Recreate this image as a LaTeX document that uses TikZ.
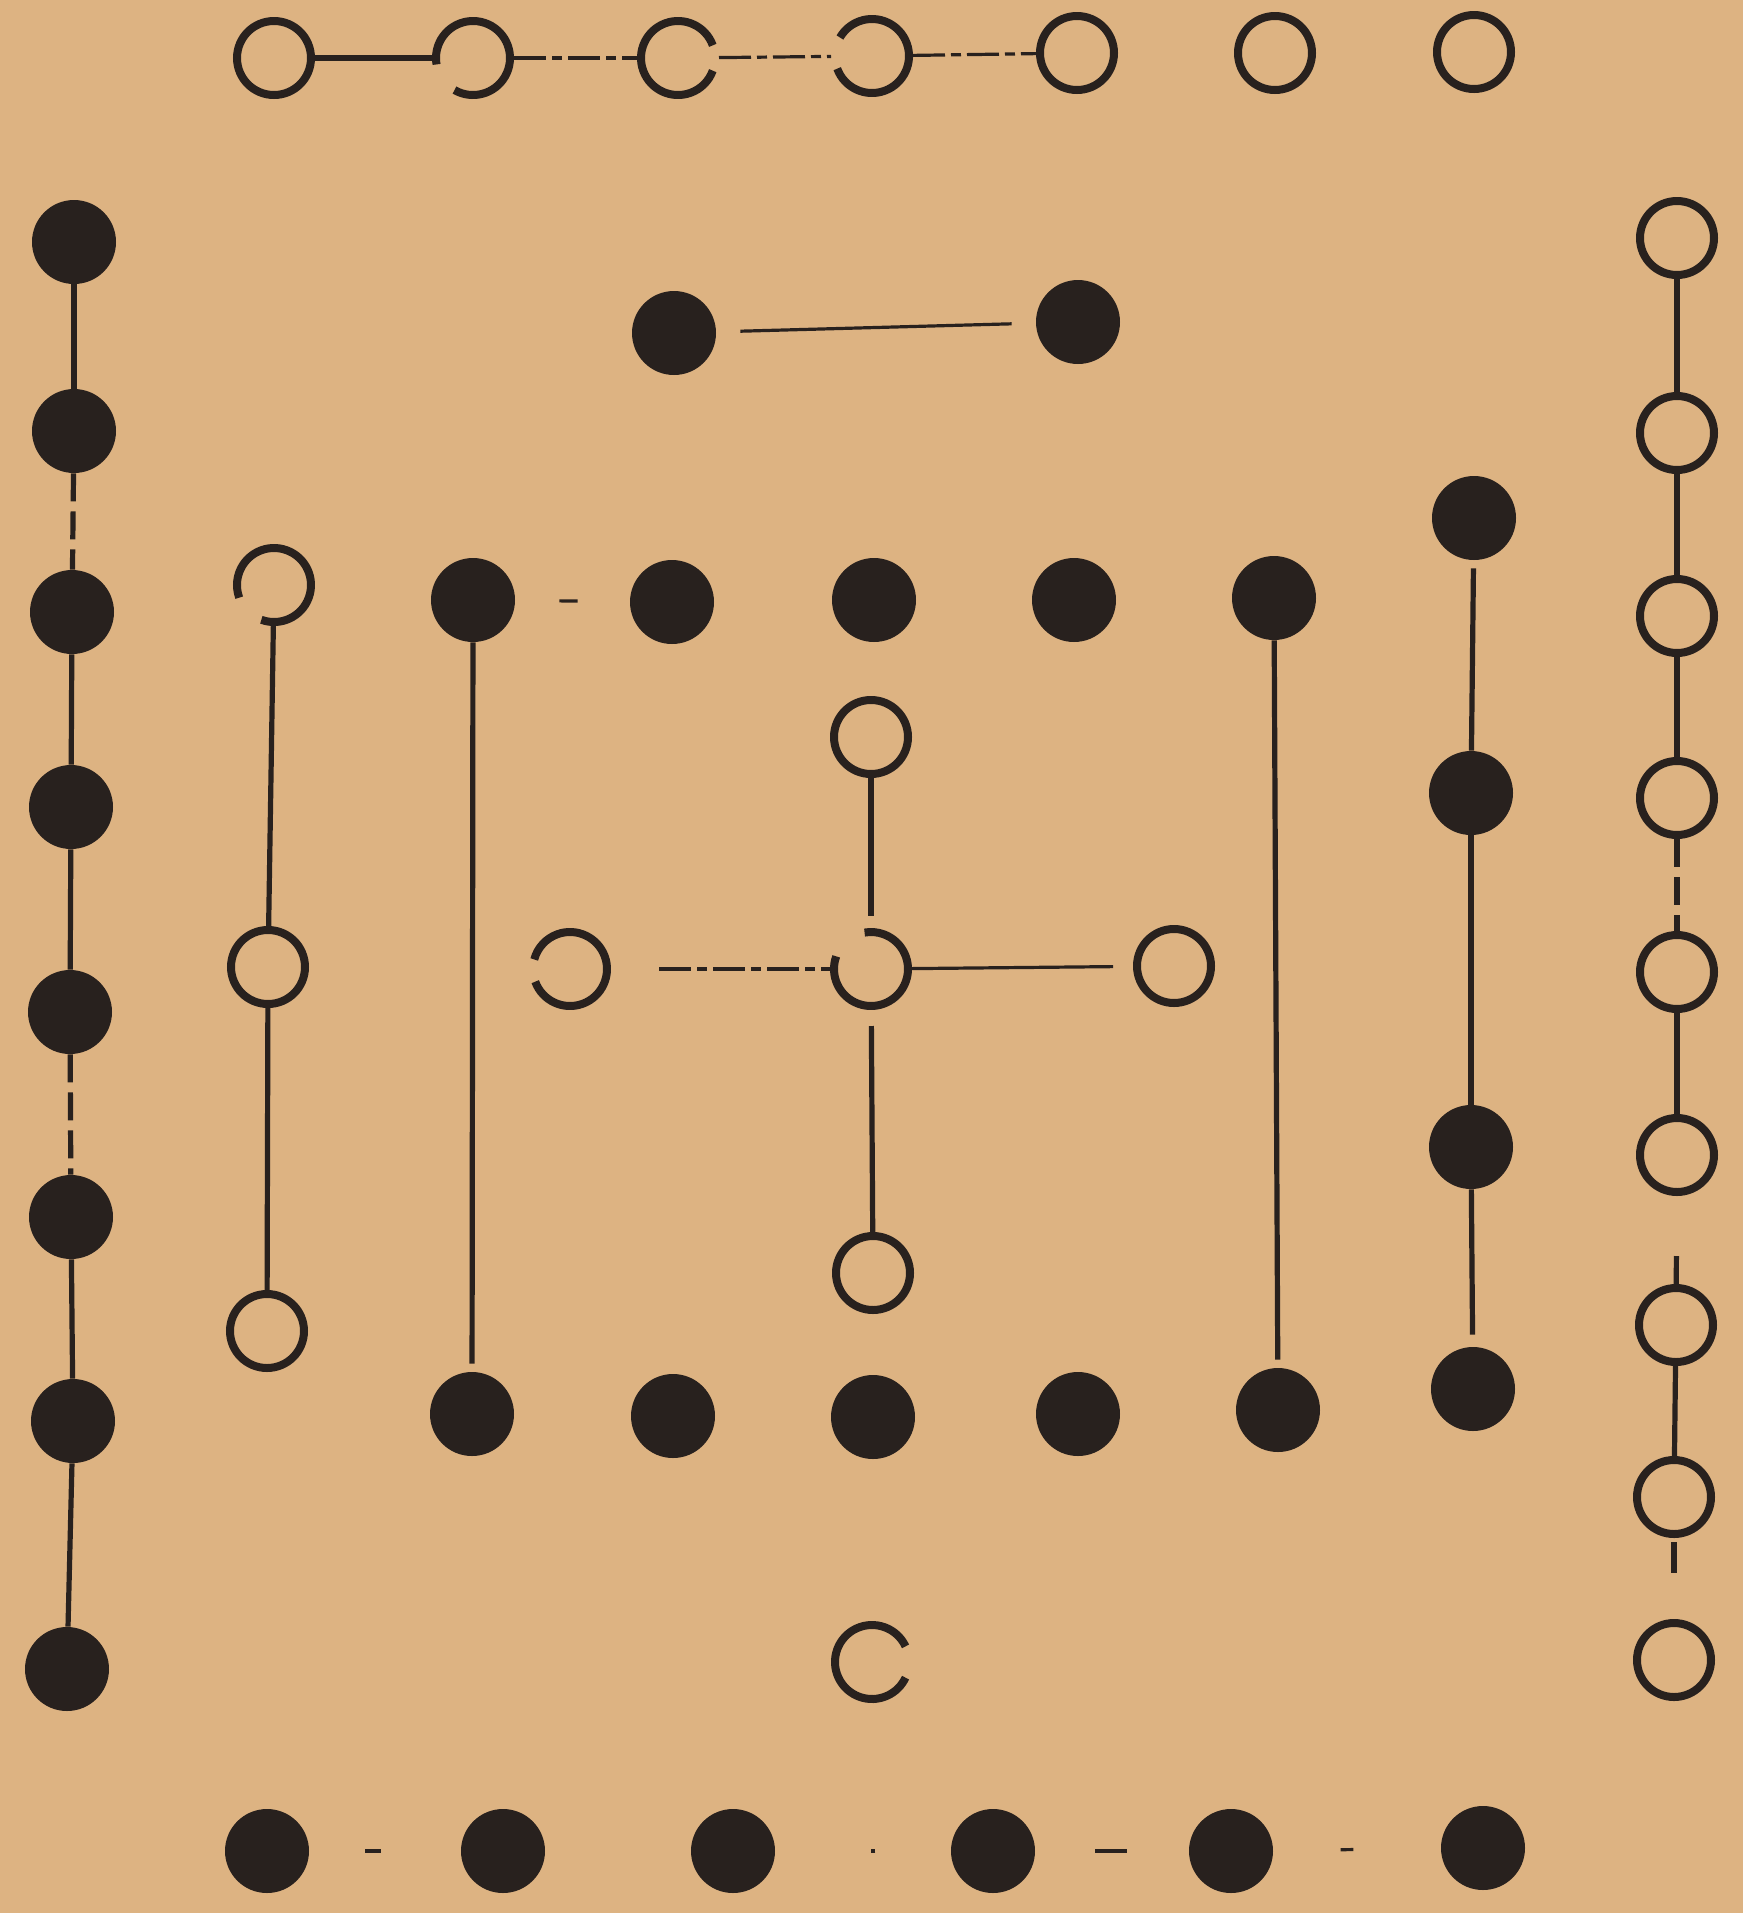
\documentclass[tikz,border=0pt]{standalone}
\definecolor{paper}{RGB}{221,179,130}
\definecolor{ink}{RGB}{40,33,30}
\begin{document}
\begin{tikzpicture}[x=0.5pt,y=-0.5pt,
  opn/.style={circle,draw=ink,line width=4pt,minimum size=37pt,inner sep=0pt},
  gapc/.style={circle,minimum size=37pt,inner sep=0pt,outer sep=2pt},
  arcline/.style={draw=ink,line width=4pt},
  ful/.style={circle,fill=ink,minimum size=42pt,inner sep=0pt},
  rope/.style={draw=ink,line width=2.6pt},
  fine/.style={draw=ink,line width=1.6pt},
  dsh/.style={draw=ink,line width=1.6pt,dash pattern=on 16pt off 3pt on 5pt off 3pt},
  vdsh/.style={draw=ink,line width=2.6pt,dash pattern=on 14pt off 5pt}]
\fill[paper] (0,0) rectangle (1743,1913);
\useasboundingbox (0,0) rectangle (1743,1913);
% top row (open)
\node[opn] (t1) at (274,58) {};
\node[gapc] (t2) at (473,58) {};
\node[gapc] (t3) at (678,58) {};
\node[gapc] (t4) at (872,56) {};
\node[opn] (t5) at (1077,53) {};
\node[opn] (t6) at (1275,53) {};
\node[opn] (t7) at (1474,52) {};
\draw[arcline] ([shift={(240:18.5pt)}]t2.center) arc[start angle=240,end angle=550,radius=18.5pt];
\draw[arcline] ([shift={(20:18.5pt)}]t3.center) arc[start angle=20,end angle=340,radius=18.5pt];
\draw[arcline] ([shift={(200:18.5pt)}]t4.center) arc[start angle=200,end angle=510,radius=18.5pt];
\draw[rope] (t1) -- (t2);
\draw[dsh] (t2) -- (t3);
\draw[dsh] (t3) -- (t4);
\draw[dsh] (t4) -- (t5);
% left column (filled)
\node[ful] (L1) at (74,242) {};
\node[ful] (L2) at (74,431) {};
\node[ful] (L3) at (72,612) {};
\node[ful] (L4) at (71,807) {};
\node[ful] (L5) at (70,1012) {};
\node[ful] (L6) at (71,1217) {};
\node[ful] (L7) at (73,1421) {};
\node[ful] (L8) at (67,1669) {};
\draw[rope] (L1) -- (L2);
\draw[vdsh] (L2) -- (L3);
\draw[rope] (L3) -- (L4);
\draw[rope] (L4) -- (L5);
\draw[vdsh] (L5) -- (L6);
\draw[rope] (L6) -- (L7);
\draw[rope] (L7) -- (L8);
% right column (open)
\node[opn] (R1) at (1677,238) {};
\node[opn] (R2) at (1677,433) {};
\node[opn] (R3) at (1677,616) {};
\node[opn] (R4) at (1677,798) {};
\node[opn] (R5) at (1677,972) {};
\node[opn] (R6) at (1677,1155) {};
\node[opn] (R7) at (1676,1325) {};
\node[opn] (R8) at (1674,1497) {};
\node[opn] (R9) at (1674,1660) {};
\draw[rope] (R1) -- (R2);
\draw[rope] (R2) -- (R3);
\draw[rope] (R3) -- (R4);
\draw[vdsh] (R4) -- (R5);
\draw[rope] (R5) -- (R6);
\draw[rope,shorten <=30pt] (R6) -- (R7);
\draw[rope] (R7) -- (R8);
\draw[rope,shorten <=2pt,shorten >=23pt] (R8) -- (R9);
% central top pair (filled)
\node[ful] (P1) at (674,333) {};
\node[ful] (P2) at (1078,322) {};
\draw[fine,shorten <=12pt,shorten >=12pt] (P1) -- (P2);
% inner top row (filled)
\node[ful] (I1) at (473,600) {};
\node[ful] (I2) at (672,602) {};
\node[ful] (I3) at (874,600) {};
\node[ful] (I4) at (1074,600) {};
\node[ful] (I5) at (1274,598) {};
\draw[fine,shorten <=22pt,shorten >=26pt] (I1) -- (I2);
% inner bottom row (filled)
\node[ful] (B1) at (472,1414) {};
\node[ful] (B2) at (673,1416) {};
\node[ful] (B3) at (873,1417) {};
\node[ful] (B4) at (1078,1414) {};
\node[ful] (B5) at (1278,1410) {};
\draw[rope,shorten >=4pt] (I1) -- (B1);
\draw[rope,shorten >=4pt] (I5) -- (B5);
% left inner column (open)
\node[gapc] (Oa) at (274,585) {};
\draw[arcline] ([shift={(250:18.5pt)}]Oa.center) arc[start angle=250,end angle=560,radius=18.5pt];
\node[opn] (Ob) at (268,967) {};
\node[opn] (Oc) at (267,1331) {};
\draw[rope] (Oa) -- (Ob);
\draw[rope] (Ob) -- (Oc);
% right inner column (filled)
\node[ful] (Q1) at (1474,518) {};
\node[ful] (Q2) at (1471,793) {};
\node[ful] (Q3) at (1471,1147) {};
\node[ful] (Q4) at (1473,1389) {};
\draw[rope,shorten <=4pt] (Q1) -- (Q2);
\draw[rope] (Q2) -- (Q3);
\draw[rope,shorten >=6pt] (Q3) -- (Q4);
% central cross (open)
\node[opn] (Cn) at (871,737) {};
\node[gapc] (Cc) at (871,969) {};
\draw[arcline] ([shift={(160:18.5pt)}]Cc.center) arc[start angle=160,end angle=460,radius=18.5pt];
\node[opn] (Cs) at (873,1273) {};
\node[gapc] (Cw) at (570,969) {};
\draw[arcline] ([shift={(200:18.5pt)}]Cw.center) arc[start angle=200,end angle=525,radius=18.5pt];
\node[opn] (Ce) at (1174,966) {};
\draw[rope,shorten >=6pt] (Cn) -- (Cc);
\draw[rope,shorten <=8pt] (Cc) -- (Cs);
\draw[dsh,shorten <=24pt] (Cw) -- (Cc);
\draw[fine,shorten >=10pt] (Cc) -- (Ce);
% bottom centre (open, gap on the right)
\node[gapc] (Cb) at (872,1662) {};
\draw[arcline] ([shift={(25:18.5pt)}]Cb.center) arc[start angle=25,end angle=335,radius=18.5pt];
% bottom outer row (filled)
\node[ful] (O1) at (267,1851) {};
\node[ful] (O2) at (503,1851) {};
\node[ful] (O3) at (733,1851) {};
\node[ful] (O4) at (993,1851) {};
\node[ful] (O5) at (1231,1851) {};
\node[ful] (O6) at (1483,1848) {};
\draw[fine,shorten <=28pt,shorten >=40pt] (O1) -- (O2);
\draw[fine,shorten <=50pt,shorten >=40pt] (O3) -- (O4);
\draw[dsh,shorten <=30pt,shorten >=30pt] (O4) -- (O5);
\draw[fine,shorten <=40pt,shorten >=50pt] (O5) -- (O6);
\end{tikzpicture}
\end{document}
